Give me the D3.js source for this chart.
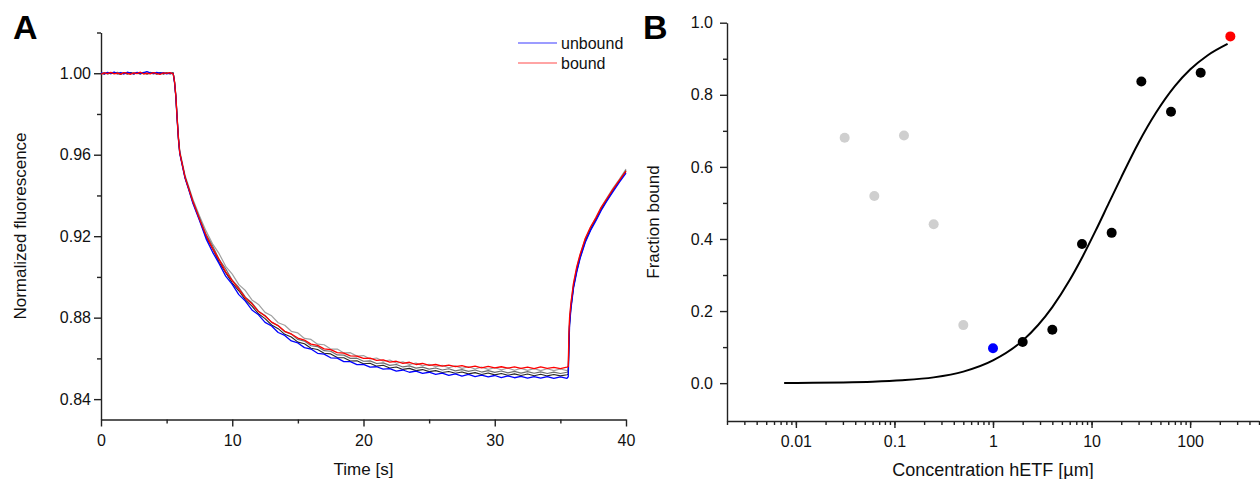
<!DOCTYPE html>
<html>
<head>
<meta charset="utf-8">
<script src="https://cdn.jsdelivr.net/npm/d3@7"></script>
<style>
  body { margin: 0; background: #fff; }
  svg { display: block; font-family: 'Liberation Sans', Arial, sans-serif; }
  .axis path, .axis line { stroke: #222; stroke-width: 1.4px; }
  .axis text { font-size: 16px; fill: #111; font-family: 'Liberation Sans', Arial, sans-serif; }
  .title { font-size: 17px; fill: #111; }
  .panel { font-size: 34px; font-weight: bold; fill: #000; }
  .legend text { font-size: 16px; fill: #111; }
</style>
</head>
<body>
<svg width="1260" height="479"></svg>
<script>
// panel A: stopped-flow traces
const timeS = [
  0, 0.25, 0.5, 0.75, 1, 1.25, 1.5, 1.75, 2, 2.25, 2.5, 2.75, 3, 3.25, 3.5, 3.75, 4, 4.25, 4.5, 4.75, 5, 5.25, 5.5,
  5.6, 5.7, 5.8, 5.9, 6, 6.2, 6.4, 6.7, 7, 7.5,
  8, 8.5, 9, 9.5, 10, 10.5, 11, 11.5,
  12, 12.5, 13, 13.5, 14, 14.5, 15, 15.5,
  16, 16.5, 17, 17.5, 18, 18.5, 19, 19.5,
  20, 20.5, 21, 21.5, 22, 22.5, 23, 23.5,
  24, 24.5, 25, 25.5, 26, 26.5, 27, 27.5,
  28, 28.5, 29, 29.5, 30, 30.5, 31, 31.5,
  32, 32.5, 33, 33.5, 34, 34.5, 35, 35.5,
  35.6, 35.65, 35.7, 35.8, 36, 36.25, 36.5, 36.9, 37.3, 37.7, 38.1, 38.5, 39, 39.5, 40
]

const boundF = [
  0.9995, 1.0002, 0.9998, 1.0004, 0.9997, 1.0001, 0.9996, 1.0003, 0.9999, 0.9995, 1.0002, 0.9998,
  1.0005, 0.9996, 1.0001, 0.9997, 1.0003, 0.9998, 0.9994, 1.0002, 0.9999, 1.0003, 0.9997,
  0.9960, 0.9890, 0.9780, 0.9680, 0.9610, 0.9550, 0.9490, 0.9430, 0.9370, 0.9285,
  0.9205, 0.9140, 0.9085, 0.9025, 0.8982, 0.8940, 0.8897, 0.8868,
  0.8830, 0.8808, 0.8778, 0.8760, 0.8733, 0.8720, 0.8700, 0.8690,
  0.8670, 0.8664, 0.8647, 0.8643, 0.8628, 0.8626, 0.8612, 0.8611,
  0.8600, 0.8601, 0.8590, 0.8593, 0.8582, 0.8586, 0.8576, 0.8581,
  0.8570, 0.8575, 0.8566, 0.8570, 0.8562, 0.8567, 0.8560, 0.8564,
  0.8556, 0.8562, 0.8554, 0.8561, 0.8553, 0.8559, 0.8552, 0.8558,
  0.8551, 0.8557, 0.8550, 0.8558, 0.8551, 0.8556, 0.8550, 0.8557,
  0.8560, 0.8720, 0.8800, 0.8870, 0.8970, 0.9050, 0.9110, 0.9190, 0.9245, 0.9290, 0.9340, 0.9380, 0.9430, 0.9475, 0.9520
]

const unboundF = [
  1.0002, 0.9997, 1.0004, 0.9999, 1.0006, 0.9998, 1.0003, 0.9996, 1.0005, 1.0001, 0.9997, 1.0004,
  0.9999, 1.0003, 1.0008, 1.0002, 0.9998, 1.0004, 0.9999, 1.0003, 0.9997, 1.0001, 0.9998,
  0.9955, 0.9885, 0.9775, 0.9675, 0.9605, 0.9545, 0.9485, 0.9425, 0.9362, 0.9278,
  0.9188, 0.9122, 0.9065, 0.9004, 0.8963, 0.8913, 0.8881, 0.8838,
  0.8814, 0.8777, 0.8759, 0.8727, 0.8713, 0.8686, 0.8676, 0.8653,
  0.8646, 0.8625, 0.8621, 0.8603, 0.8601, 0.8584, 0.8584, 0.8569,
  0.8571, 0.8557, 0.8559, 0.8547, 0.8550, 0.8538, 0.8543, 0.8532,
  0.8537, 0.8526, 0.8532, 0.8522, 0.8528, 0.8517, 0.8524, 0.8513,
  0.8521, 0.8511, 0.8518, 0.8509, 0.8516, 0.8506, 0.8514, 0.8505,
  0.8512, 0.8503, 0.8511, 0.8503, 0.8510, 0.8502, 0.8509, 0.8502,
  0.8510, 0.8650, 0.8760, 0.8840, 0.8945, 0.9025, 0.9090, 0.9170, 0.9228, 0.9275, 0.9325, 0.9368, 0.9418, 0.9465, 0.9510
]

// intermediate traces (grey / black in the figure)
const lightF = [
  1.0001, 0.9996, 1.0003, 0.9998, 1.0002, 0.9995, 1.0004, 0.9999, 1.0002, 0.9997, 1.0003, 1.0000,
  0.9996, 1.0004, 0.9998, 1.0002, 0.9997, 1.0003, 1.0001, 0.9996, 1.0002, 0.9998, 1.0001,
  0.9962, 0.9895, 0.9790, 0.9690, 0.9620, 0.9560, 0.9500, 0.9440, 0.9382, 0.9300,
  0.9226, 0.9163, 0.9114, 0.9052, 0.9014, 0.8962, 0.8933, 0.8887,
  0.8865, 0.8826, 0.8809, 0.8775, 0.8763, 0.8733, 0.8725, 0.8698,
  0.8693, 0.8670, 0.8667, 0.8646, 0.8646, 0.8627, 0.8628, 0.8611,
  0.8614, 0.8597, 0.8602, 0.8586, 0.8592, 0.8577, 0.8583, 0.8570,
  0.8577, 0.8564, 0.8571, 0.8559, 0.8566, 0.8554, 0.8563, 0.8551,
  0.8559, 0.8548, 0.8557, 0.8546, 0.8554, 0.8544, 0.8553, 0.8542,
  0.8551, 0.8541, 0.8550, 0.8540, 0.8549, 0.8540, 0.8548, 0.8540,
  0.8545, 0.8700, 0.8790, 0.8865, 0.8965, 0.9045, 0.9108, 0.9188, 0.9245, 0.9290, 0.9342, 0.9383, 0.9435, 0.9480, 0.9530
]

const greyF = [
  0.9998, 1.0003, 0.9996, 1.0001, 0.9999, 1.0004, 0.9997, 1.0002, 0.9995, 1.0003, 0.9998, 1.0002,
  0.9997, 1.0001, 0.9996, 1.0004, 0.9999, 0.9997, 1.0003, 0.9998, 1.0002, 0.9996, 1.0001,
  0.9958, 0.9888, 0.9782, 0.9684, 0.9612, 0.9552, 0.9492, 0.9434, 0.9374, 0.9292,
  0.9210, 0.9153, 0.9086, 0.9040, 0.8984, 0.8948, 0.8901, 0.8873,
  0.8832, 0.8811, 0.8777, 0.8761, 0.8731, 0.8719, 0.8693, 0.8685,
  0.8662, 0.8658, 0.8638, 0.8635, 0.8617, 0.8616, 0.8600, 0.8601,
  0.8586, 0.8588, 0.8575, 0.8578, 0.8566, 0.8570, 0.8558, 0.8563,
  0.8552, 0.8557, 0.8547, 0.8553, 0.8543, 0.8549, 0.8539, 0.8545,
  0.8536, 0.8543, 0.8533, 0.8540, 0.8531, 0.8538, 0.8529, 0.8536,
  0.8528, 0.8535, 0.8527, 0.8534, 0.8526, 0.8533, 0.8526, 0.8532,
  0.8535, 0.8680, 0.8775, 0.8852, 0.8955, 0.9035, 0.9100, 0.9180, 0.9238, 0.9283, 0.9334, 0.9376, 0.9428, 0.9474, 0.9525
]

const darkF = [
  1.0000, 0.9996, 1.0002, 0.9997, 1.0003, 0.9999, 0.9995, 1.0002, 0.9998, 1.0003, 0.9996, 1.0001,
  0.9998, 1.0004, 0.9997, 1.0000, 1.0003, 0.9996, 1.0002, 0.9997, 1.0001, 0.9999, 1.0002,
  0.9957, 0.9887, 0.9778, 0.9678, 0.9608, 0.9548, 0.9488, 0.9428, 0.9366, 0.9282,
  0.9196, 0.9138, 0.9072, 0.9021, 0.8970, 0.8932, 0.8887, 0.8857,
  0.8819, 0.8795, 0.8764, 0.8746, 0.8718, 0.8705, 0.8680, 0.8672,
  0.8650, 0.8644, 0.8625, 0.8622, 0.8604, 0.8603, 0.8587, 0.8588,
  0.8574, 0.8576, 0.8562, 0.8566, 0.8553, 0.8558, 0.8546, 0.8551,
  0.8540, 0.8545, 0.8535, 0.8540, 0.8531, 0.8536, 0.8527, 0.8533,
  0.8524, 0.8530, 0.8521, 0.8528, 0.8519, 0.8526, 0.8517, 0.8524,
  0.8516, 0.8523, 0.8515, 0.8522, 0.8514, 0.8521, 0.8514, 0.8520,
  0.8522, 0.8665, 0.8768, 0.8846, 0.8950, 0.9030, 0.9095, 0.9175, 0.9233, 0.9280, 0.9330, 0.9372, 0.9423, 0.9470, 0.9518
]

const timeTicks = [0, 10, 20, 30, 40]
const timeMinor = [5, 15, 25, 35]
const fluorTicks = [0.84, 0.88, 0.92, 0.96, 1.00]
const fluorMinor = [0.86, 0.90, 0.94, 0.98, 1.02]

// panel B: titration
const concB = [0.03125, 0.0625, 0.125, 0.25, 0.5, 1, 2, 4, 8, 16, 32, 64, 128, 256]
const fracB = [0.681, 0.519, 0.687, 0.441, 0.161, 0.097, 0.114, 0.148, 0.386, 0.417, 0.837, 0.753, 0.861, 0.962]
const groupB = ['excluded', 'excluded', 'excluded', 'excluded', 'excluded', 'unbound',
  'fit', 'fit', 'fit', 'fit', 'fit', 'fit', 'fit', 'bound']

const fitConc = [0.0076, 0.015, 0.03, 0.06, 0.12, 0.25, 0.5, 1, 2, 4, 6, 8, 11, 15, 20, 30, 45, 70, 100, 150, 240]
const fitFrac = [0.0005, 0.001, 0.002, 0.004, 0.008, 0.016, 0.032, 0.063, 0.118, 0.211, 0.286, 0.348, 0.423,
  0.500, 0.571, 0.667, 0.750, 0.824, 0.870, 0.909, 0.941]

const concTicks = [0.01, 0.1, 1, 10, 100]
const concLabels = ['0.01', '0.1', '1', '10', '100']
const fracTicks = [0.0, 0.2, 0.4, 0.6, 0.8, 1.0]
const fracMinor = [0.1, 0.3, 0.5, 0.7, 0.9]

const svg = d3.select('svg')

// ---------- panel A ----------
const xA = d3.scaleLinear().domain([0, 40]).range([101, 626])
const yA = d3.scaleLinear().domain([0.83, 1.02]).range([419.5, 32.5])

const gA = svg.append('g')

gA.append('g')
  .attr('class', 'axis')
  .attr('transform', 'translate(0,419.5)')
  .call(d3.axisBottom(xA).tickValues(timeMinor).tickSize(4).tickFormat(''))
  .call(g => g.select('.domain').remove())

gA.append('g')
  .attr('class', 'axis')
  .attr('transform', 'translate(0,419.5)')
  .call(d3.axisBottom(xA).tickValues(timeTicks).tickSize(7).tickSizeOuter(0).tickPadding(8).tickFormat(d3.format('d')))

gA.append('g')
  .attr('class', 'axis')
  .attr('transform', 'translate(101,0)')
  .call(d3.axisLeft(yA).tickValues(fluorMinor).tickSize(4).tickFormat(''))
  .call(g => g.select('.domain').remove())

gA.append('g')
  .attr('class', 'axis')
  .attr('transform', 'translate(101,0)')
  .call(d3.axisLeft(yA).tickValues(fluorTicks).tickSize(7).tickSizeOuter(0).tickPadding(3).tickFormat(d3.format('.2f')))

const lineA = d3.line()
  .x(d => xA(d[0]))
  .y(d => yA(d[1]))

const traces = [
  { vals: lightF, color: '#a0a0a0', w: 1.2 },
  { vals: greyF, color: '#707070', w: 1.2 },
  { vals: darkF, color: '#262626', w: 1.1 },
  { vals: unboundF, color: '#0000ff', w: 1.3 },
  { vals: boundF, color: '#ff0000', w: 1.3 }
]

gA.selectAll('.trace')
  .data(traces)
  .enter().append('path')
  .attr('class', 'trace')
  .attr('fill', 'none')
  .attr('stroke', d => d.color)
  .attr('stroke-width', d => d.w)
  .attr('stroke-linejoin', 'round')
  .attr('d', d => lineA(d3.zip(timeS, d.vals)))

// legend
const legend = gA.append('g').attr('class', 'legend')
const legendItems = [
  { label: 'unbound', color: '#3a3aff', y: 43 },
  { label: 'bound', color: '#ff4a4a', y: 63 }
]
legendItems.forEach(it => {
  legend.append('line')
    .attr('x1', 518).attr('x2', 557)
    .attr('y1', it.y).attr('y2', it.y)
    .attr('stroke', it.color)
    .attr('stroke-width', 1.2)
  legend.append('text')
    .attr('x', 561).attr('y', it.y + 6)
    .text(it.label)
})

gA.append('text')
  .attr('class', 'title')
  .attr('x', 363.5).attr('y', 475)
  .attr('text-anchor', 'middle')
  .text('Time [s]')

gA.append('text')
  .attr('class', 'title')
  .attr('transform', 'translate(26,226) rotate(-90)')
  .attr('text-anchor', 'middle')
  .text('Normalized fluorescence')

gA.append('text')
  .attr('class', 'panel')
  .attr('x', 13).attr('y', 39)
  .text('A')

// ---------- panel B ----------
const xB = d3.scaleLog().domain([0.002, 500]).range([727, 1259])
const yB = d3.scaleLinear().domain([-0.105, 1]).range([421, 22.7])

const gB = svg.append('g')

gB.append('g')
  .attr('class', 'axis')
  .attr('transform', 'translate(0,421)')
  .call(d3.axisBottom(xB).tickValues(xB.ticks()).tickSize(4).tickFormat(''))
  .call(g => g.select('.domain').remove())

gB.append('g')
  .attr('class', 'axis')
  .attr('transform', 'translate(0,421)')
  .call(d3.axisBottom(xB).tickValues(concTicks).tickSize(7).tickSizeOuter(0).tickPadding(8)
    .tickFormat((d, i) => concLabels[i]))

gB.append('g')
  .attr('class', 'axis')
  .attr('transform', 'translate(727,0)')
  .call(d3.axisLeft(yB).tickValues(fracMinor).tickSize(4).tickFormat(''))
  .call(g => g.select('.domain').remove())

gB.append('g')
  .attr('class', 'axis')
  .attr('transform', 'translate(727,0)')
  .call(d3.axisLeft(yB).tickValues(fracTicks).tickSize(7).tickSizeOuter(0).tickPadding(7).tickFormat(d3.format('.1f')))

const lineB = d3.line()
  .x(d => xB(d[0]))
  .y(d => yB(d[1]))
  .curve(d3.curveMonotoneX)

gB.append('path')
  .attr('fill', 'none')
  .attr('stroke', '#000')
  .attr('stroke-width', 2)
  .attr('d', lineB(d3.zip(fitConc, fitFrac)))

const pointColor = { excluded: '#cfcfcf', unbound: '#0000ff', fit: '#000000', bound: '#ff0000' }

gB.selectAll('.pt')
  .data(d3.zip(concB, fracB, groupB))
  .enter().append('circle')
  .attr('class', 'pt')
  .attr('cx', d => xB(d[0]))
  .attr('cy', d => yB(d[1]))
  .attr('r', 5)
  .attr('fill', d => pointColor[d[2]])

gB.append('text')
  .attr('class', 'title')
  .attr('x', 993).attr('y', 476)
  .attr('text-anchor', 'middle')
  .style('font-size', '18px')
  .text('Concentration hETF [µm]')

gB.append('text')
  .attr('class', 'title')
  .attr('transform', 'translate(659,222) rotate(-90)')
  .attr('text-anchor', 'middle')
  .text('Fraction bound')

gB.append('text')
  .attr('class', 'panel')
  .attr('x', 643).attr('y', 39)
  .text('B')
</script>
</body>
</html>
